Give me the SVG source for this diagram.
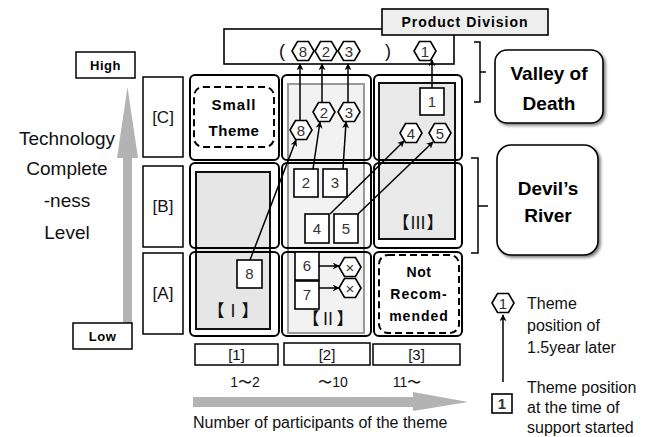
<svg xmlns="http://www.w3.org/2000/svg" width="657" height="437" viewBox="0 0 657 437">
<style>
.cell{fill:none;stroke:#000;stroke-width:2}
.lbl{fill:#fff;stroke:#000;stroke-width:1.5}
.sq{fill:#fff;stroke:#000;stroke-width:1.6}
.hex{fill:#fff;stroke:#000;stroke-width:1.6}
.t{font-family:"Liberation Sans",Arial,sans-serif;fill:#111}
.b{font-family:"Liberation Sans",Arial,sans-serif;font-weight:bold;fill:#000}
.z{font-family:"Noto Sans CJK JP",sans-serif;fill:#111;text-anchor:middle;font-size:17px}
.num{font-family:"Liberation Sans",Arial,sans-serif;font-size:15px;fill:#333;text-anchor:middle}
.c{text-anchor:middle}
.con{stroke:#000;stroke-width:1.5;fill:none;marker-end:url(#ah)}
.dash{fill:none;stroke:#000;stroke-width:2;stroke-dasharray:7,4}
</style>
<defs>
<marker id="ah" viewBox="0 0 10 10" refX="9" refY="5" markerWidth="7" markerHeight="7" orient="auto" markerUnits="userSpaceOnUse">
<path d="M0,0 L10,5 L0,10 L3,5 Z" fill="#000"/>
</marker>
<polygon id="hx" points="-11,0 -5.5,-9.5 5.5,-9.5 11,0 5.5,9.5 -5.5,9.5"/>
<filter id="sh" x="-10%" y="-10%" width="130%" height="130%">
<feDropShadow dx="2" dy="2" stdDeviation="1.5" flood-color="#000" flood-opacity="0.5"/>
</filter>
</defs>
<rect width="657" height="437" fill="#fff"/>

<g id="y-axis">
<polygon points="123,323 123,158 117,158 127.5,87 138,158 132,158 132,323" fill="#b3b3b3"/>
<rect class="lbl" x="76" y="52" width="59" height="26"/>
<text class="b c" x="105.5" y="70" font-size="13" letter-spacing="0.5">High</text>
<rect class="lbl" x="73" y="323" width="59" height="26"/>
<text class="b c" x="102.5" y="341" font-size="13" letter-spacing="0.5">Low</text>
<text class="t c" font-size="19" x="67" y="145">Technology</text>
<text class="t c" font-size="19" x="67" y="175">Complete</text>
<text class="t c" font-size="19" x="67" y="207">-ness</text>
<text class="t c" font-size="19" x="67" y="239">Level</text>
</g>

<g id="row-labels">
<rect class="lbl" x="143" y="77" width="40" height="80"/>
<text class="t c" font-size="17" x="163" y="123">[C]</text>
<rect class="lbl" x="143" y="166" width="40" height="81"/>
<text class="t c" font-size="17" x="163" y="212">[B]</text>
<rect class="lbl" x="143" y="253" width="40" height="81"/>
<text class="t c" font-size="17" x="163" y="299">[A]</text>
</g>

<g id="zone-I">
<rect x="196" y="172" width="74" height="157" fill="#e6e6e6" stroke="#111" stroke-width="2"/>
</g>
<g id="zone-II">
<rect x="288" y="84" width="76" height="249" fill="#f2f2f2" stroke="#999" stroke-width="2"/>
</g>
<g id="zone-III">
<rect x="379" y="83" width="76" height="156" fill="#e9e9e9" stroke="#111" stroke-width="2"/>
</g>

<g id="cells">
<rect class="cell" x="190" y="75" width="89" height="85" rx="5"/>
<rect class="cell" x="282" y="75" width="89" height="85" rx="5"/>
<rect class="cell" x="374" y="75" width="88" height="85" rx="5"/>
<rect class="cell" x="190" y="163" width="89" height="85" rx="5"/>
<rect class="cell" x="282" y="163" width="89" height="85" rx="5"/>
<rect class="cell" x="374" y="163" width="88" height="85" rx="5"/>
<rect class="cell" x="190" y="252" width="89" height="84" rx="5"/>
<rect class="cell" x="282" y="252" width="89" height="84" rx="5"/>
<rect class="cell" x="374" y="252" width="88" height="84" rx="5"/>
</g>

<g id="small-theme">
<rect class="dash" x="194" y="87" width="80" height="60" rx="9"/>
<text class="b c" font-size="15" x="234" y="110" letter-spacing="1">Small</text>
<text class="b c" font-size="15" x="234" y="136" letter-spacing="0.5">Theme</text>
</g>

<g id="not-recommended">
<rect class="dash" x="379" y="255" width="80" height="78" rx="9"/>
<text class="b c" font-size="14" x="419" y="277" letter-spacing="0.5">Not</text>
<text class="b c" font-size="14" x="419" y="299" letter-spacing="1">Recom-</text>
<text class="b c" font-size="14" x="419" y="321" letter-spacing="1">mended</text>
</g>

<g id="zone-labels">
<text class="z" x="233" y="317">【Ⅰ】</text>
<text class="z" x="328" y="325">【Ⅱ】</text>
<text class="z" x="418" y="229">【Ⅲ】</text>
</g>

<g id="result-box">
<rect x="224" y="29" width="230" height="35" fill="#fff" stroke="#000" stroke-width="1.6"/>
<text class="t" font-size="18" x="279" y="57">(</text>
<text class="t" font-size="18" x="385" y="57">)</text>
</g>
<g id="product-division">
<rect x="382" y="9" width="166" height="26" fill="#eeeeee" stroke="#000" stroke-width="1.6"/>
<text class="b c" font-size="14" x="465" y="27" letter-spacing="1">Product Division</text>
</g>

<g id="hex-top-8"><use href="#hx" class="hex" x="303" y="51"/><text class="num" x="303" y="56.5">8</text></g>
<g id="hex-top-2"><use href="#hx" class="hex" x="326" y="51"/><text class="num" x="326" y="56.5">2</text></g>
<g id="hex-top-3"><use href="#hx" class="hex" x="349" y="51"/><text class="num" x="349" y="56.5">3</text></g>
<g id="hex-top-1"><use href="#hx" class="hex" x="425" y="51"/><text class="num" x="425" y="56.5">1</text></g>

<g id="hex-8"><use href="#hx" class="hex" x="301" y="130"/><text class="num" x="301" y="135.5">8</text></g>
<g id="hex-2"><use href="#hx" class="hex" x="324" y="112"/><text class="num" x="324" y="117.5">2</text></g>
<g id="hex-3"><use href="#hx" class="hex" x="349" y="112"/><text class="num" x="349" y="117.5">3</text></g>
<g id="hex-4"><use href="#hx" class="hex" x="411" y="133"/><text class="num" x="411" y="138.5">4</text></g>
<g id="hex-5"><use href="#hx" class="hex" x="440" y="133"/><text class="num" x="440" y="138.5">5</text></g>
<g id="hex-x1"><use href="#hx" class="hex" x="350" y="267"/><text class="num" x="350" y="272.5" font-size="17">×</text></g>
<g id="hex-x2"><use href="#hx" class="hex" x="350" y="288"/><text class="num" x="350" y="293.5" font-size="17">×</text></g>

<g id="sq-1"><rect class="sq" x="420" y="88" width="24" height="27"/><text class="num" x="432" y="107">1</text></g>
<g id="sq-2"><rect class="sq" x="294" y="169" width="24" height="28"/><text class="num" x="306" y="188">2</text></g>
<g id="sq-3"><rect class="sq" x="323" y="169" width="24" height="28"/><text class="num" x="335" y="188">3</text></g>
<g id="sq-4"><rect class="sq" x="305" y="214" width="24" height="29"/><text class="num" x="317" y="234">4</text></g>
<g id="sq-5"><rect class="sq" x="334" y="214" width="24" height="29"/><text class="num" x="346" y="234">5</text></g>
<g id="sq-8"><rect class="sq" x="237" y="260" width="25" height="28"/><text class="num" x="249.5" y="279">8</text></g>
<g id="sq-6"><rect class="sq" x="295" y="252" width="24" height="28"/><text class="num" x="307" y="271">6</text></g>
<g id="sq-7"><rect class="sq" x="295" y="281" width="24" height="28"/><text class="num" x="307" y="300">7</text></g>

<g id="connectors">
<line class="con" x1="250" y1="260" x2="296" y2="140"/>
<line class="con" x1="313" y1="169" x2="320" y2="122"/>
<line class="con" x1="343" y1="169" x2="346" y2="122"/>
<line class="con" x1="330" y1="214" x2="404" y2="141"/>
<line class="con" x1="358" y1="214" x2="433" y2="142"/>
<line class="con" x1="300" y1="121" x2="300" y2="64"/>
<line class="con" x1="322" y1="103" x2="322" y2="64"/>
<line class="con" x1="348" y1="103" x2="348" y2="64"/>
<line class="con" x1="432" y1="88" x2="432" y2="60"/>
<line class="con" x1="319" y1="266" x2="339" y2="266"/>
<line class="con" x1="319" y1="288" x2="339" y2="288"/>
<line class="con" x1="503" y1="382" x2="503" y2="315"/>
</g>

<g id="bracket-valley">
<path d="M474,42 H480 V102 H474 M480,72 H486" fill="none" stroke="#000" stroke-width="1.5"/>
</g>
<g id="bracket-devil">
<path d="M471,158 H478 V253 H471 M478,206 H488" fill="none" stroke="#000" stroke-width="1.5"/>
</g>
<g id="valley-of-death">
<rect x="495" y="50" width="108" height="73" rx="12" fill="#fff" stroke="#000" stroke-width="1.6" filter="url(#sh)"/>
<text class="b c" font-size="19" x="549" y="80">Valley of</text>
<text class="b c" font-size="19" x="549" y="110">Death</text>
</g>
<g id="devils-river">
<rect x="497" y="145" width="101" height="110" rx="14" fill="#fff" stroke="#000" stroke-width="1.6" filter="url(#sh)"/>
<text class="b c" font-size="19" x="548" y="195">Devil’s</text>
<text class="b c" font-size="19" x="548" y="222">River</text>
</g>

<g id="legend">
<use href="#hx" class="hex" x="503" y="303"/><text class="num" x="503" y="308.5">1</text>
<rect class="sq" x="492" y="394" width="20" height="19"/><text class="num" x="502" y="409" fill="#000" font-weight="bold" font-size="13">1</text>
<text class="t" font-size="16" x="527" y="309" fill="#222">Theme</text>
<text class="t" font-size="16" x="527" y="331" fill="#222">position of</text>
<text class="t" font-size="16" x="527" y="353" fill="#222">1.5year later</text>
<text class="t" font-size="16" x="527" y="393" fill="#222">Theme position</text>
<text class="t" font-size="16" x="527" y="413" fill="#222">at the time of</text>
<text class="t" font-size="16" x="527" y="433" fill="#222">support started</text>
</g>

<g id="col-labels">
<rect class="lbl" x="195" y="344" width="83" height="21"/>
<text class="t c" font-size="15" x="236.5" y="360" fill="#333">[1]</text>
<rect class="lbl" x="284" y="343" width="86" height="22" stroke-width="2"/>
<text class="t c" font-size="15" x="327" y="360" fill="#333">[2]</text>
<rect class="lbl" x="373" y="344" width="87" height="21"/>
<text class="t c" font-size="15" x="416.5" y="360" fill="#333">[3]</text>
<text class="t c" font-size="14" x="245" y="387" fill="#333">1〜2</text>
<text class="t c" font-size="14" x="333" y="387" fill="#333">〜10</text>
<text class="t c" font-size="14" x="407" y="387" fill="#333">11〜</text>
</g>
<g id="x-axis">
<polygon points="193,397 413,397 413,392 468,402 413,411 413,407 193,407" fill="#b3b3b3"/>
<text class="t" font-size="16" x="193" y="428" fill="#222">Number of participants of the theme</text>
</g>
</svg>
